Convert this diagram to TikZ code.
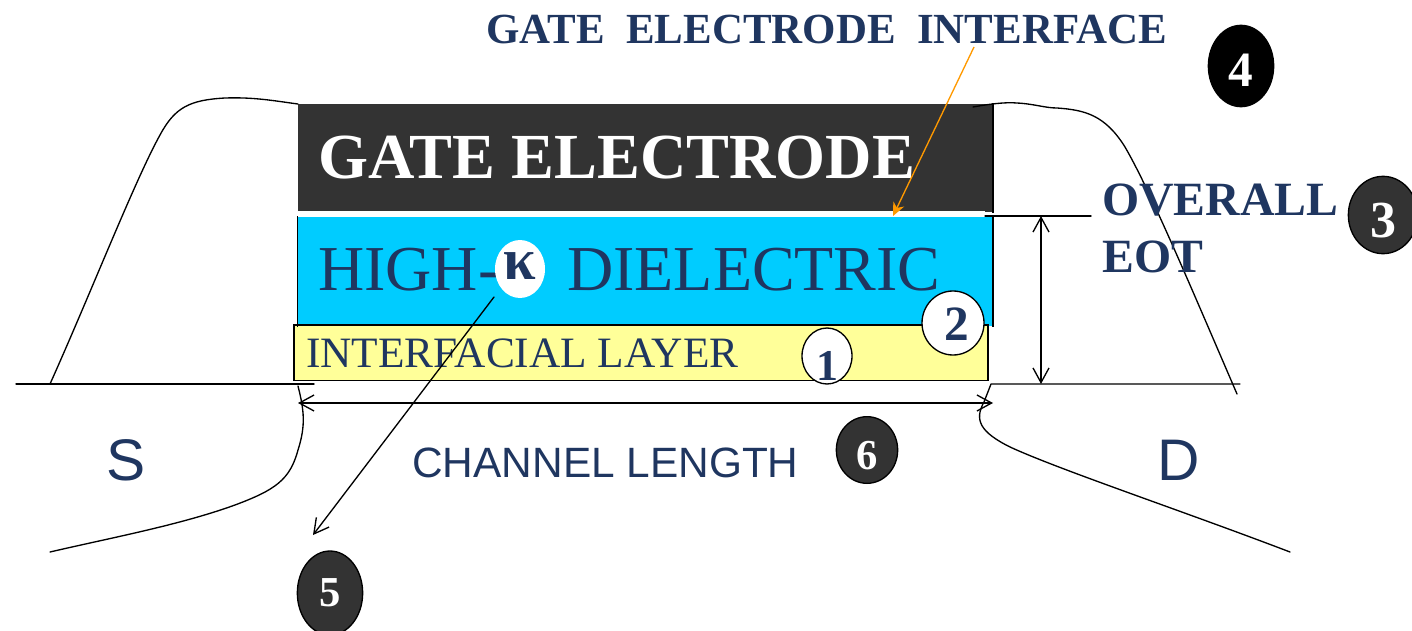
\documentclass[tikz,border=0pt]{standalone}
\usepackage{fontspec}
\setmainfont{Liberation Serif}
\setsansfont{Liberation Sans}
\usetikzlibrary{arrows.meta,shapes.geometric}
\definecolor{navy}{RGB}{31,54,96}
\definecolor{charcoal}{RGB}{51,51,51}
\definecolor{hik}{RGB}{0,204,255}
\definecolor{ilayer}{RGB}{255,255,153}
\definecolor{amber}{RGB}{255,153,0}
\newcommand{\pxfont}[1]{\fontsize{#1}{#1}\selectfont}
\newcommand{\drop}[2]{\raisebox{-#1}[0.66em][0pt]{#2}}
\tikzset{
  layer/.style={rectangle,inner sep=0pt,line width=1pt},
  txt/.style={inner sep=0pt,anchor=base west,text=navy},
  badge/.style={ellipse,draw=black,line width=1pt,inner sep=0pt},
  wire/.style={line width=1pt,line cap=round,line join=round},
  dim/.style={wire,{Straight Barb[length=11pt,width=12pt]}-{Straight Barb[length=11pt,width=12pt]}},
}
\begin{document}
\begin{tikzpicture}[x=0.75pt,y=-0.75pt]
  \useasboundingbox (0,0) rectangle (1412,631);
  % stack
  \node[layer,fill=charcoal,minimum width=520.5pt,minimum height=81pt] (gate) at (645,158) {};
  \node[layer,fill=hik,minimum width=520.5pt,minimum height=82pt] (diel) at (645,271.5) {};
  \node[layer,fill=ilayer,draw=black,minimum width=520.5pt,minimum height=41.5pt] (inter) at (641,352.5) {};
  \draw[line width=1.4pt] (gate.north east) -- (gate.south east);
  \draw[line width=1.4pt] (diel.north east) -- (diel.south east);
  \draw[line width=1pt] (diel.north west) -- (diel.south west);
  \fill[white] (298,211) rectangle (985,217);
  % outline of the device
  \draw[wire] (50,384) .. controls (90,295) and (135,180) .. (160,135)
    .. controls (175,107) and (190,100) .. (225,98) .. controls (255,97) and (275,101) .. (298,104);
  \draw[wire] (973,107) .. controls (990,104) and (1005,102) .. (1017,103)
    .. controls (1035,104) and (1045,108) .. (1057,108) .. controls (1085,110) and (1105,115) .. (1125,147)
    .. controls (1150,190) and (1190,285) .. (1237,394);
  \draw[wire] (16,384) -- (314,384);
  \draw[wire] (1240,384) -- (991,384) -- (984,402) .. controls (974,420) and (980,432) .. (1010,447)
    .. controls (1060,470) and (1180,510) .. (1290,552);
  \draw[wire] (298,386) .. controls (304,410) and (306,425) .. (298,450)
    .. controls (290,480) and (275,490) .. (235,505) .. controls (180,525) and (110,538) .. (50,552);
  % labels
  \node[txt,font=\bfseries\pxfont{32.2}] (ifacelabel) at (486,44) {GATE\ \ ELECTRODE\ \ INTERFACE};
  \node[txt,font=\bfseries\pxfont{48.2},text=white] (gatelabel) at (318,178) {GATE ELECTRODE};
  \node[txt,font=\pxfont{48}] (highlabel) at (318,290) {HIGH-};
  \node[txt,font=\pxfont{48}] (diellabel) at (567,290) {DIELECTRIC};
  \node[txt,font=\pxfont{32.5}] (interlabel) at (306,367) {INTERFACIAL LAYER};
  \node[txt,font=\bfseries\pxfont{35.8}] (overall) at (1102,215) {OVERALL};
  \node[txt,font=\bfseries\pxfont{35.8}] (eot) at (1102,272) {EOT};
  \node[txt,font=\sffamily\pxfont{31.8}] (channel) at (412,477) {CHANNEL LENGTH};
  \node[txt,font=\sffamily\pxfont{44}] (src) at (106,480) {S};
  \node[txt,font=\sffamily\pxfont{44}] (drn) at (1157,480) {D};
  % badges
  \node[badge,draw=none,fill=white,text=navy,font=\bfseries\pxfont{44},minimum width=37.5pt,minimum height=43.5pt] (kappa) at (520,269) {\raisebox{2pt}[0.46em][0pt]{κ}};
  \node[badge,fill=white,text=navy,font=\bfseries\pxfont{33},minimum width=37.5pt,minimum height=42pt] (one) at (827,356) {\drop{7.5pt}{1}};
  \node[badge,fill=white,text=navy,font=\bfseries\pxfont{37},minimum width=46.5pt,minimum height=48pt] (two) at (953,323) {\hspace{5pt}\drop{1pt}{2}};
  \node[badge,fill=charcoal,text=white,font=\bfseries\pxfont{39},minimum width=52pt,minimum height=58pt] (three) at (1383,215) {\drop{4pt}{3}};
  \node[badge,fill=black,text=white,font=\bfseries\pxfont{37},minimum width=49pt,minimum height=61pt] (four) at (1241,66) {\drop{3pt}{4}};
  \node[badge,fill=charcoal,text=white,font=\bfseries\pxfont{32},minimum width=49pt,minimum height=63pt] (five) at (330,593) {5};
  \node[badge,fill=charcoal,text=white,font=\bfseries\pxfont{32},minimum width=46pt,minimum height=50pt] (six) at (867,450) {\drop{4pt}{6}};
  % connectors
  \coordinate (ifacetop) at (974,47);
  \coordinate (ifacetip) at (893,216);
  \coordinate (kappatip) at (313,535);
  \coordinate (kappastart) at (494,297);
  \coordinate (chanl) at (298,403);
  \coordinate (chanr) at (993,403);
  \coordinate (eottop) at (1041,216);
  \coordinate (eotbot) at (1041,384);
  \coordinate (eotl) at (985,216);
  \coordinate (eotr) at (1091,216);
  \draw[line width=1pt,amber,-{Stealth[length=10pt,width=9pt]}] (ifacetop) -- (ifacetip);
  \draw[wire,-{Straight Barb[length=11pt,width=12pt]}] (kappastart) -- (kappatip);
  \draw[dim] (chanl) -- (chanr);
  \draw[dim] (eottop) -- (eotbot);
  \draw[wire] (eotl) -- (eotr);
\end{tikzpicture}
\end{document}
